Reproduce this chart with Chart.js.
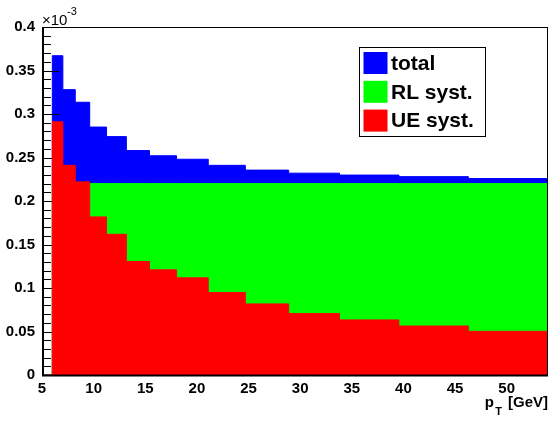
<!DOCTYPE html>
<html>
<head>
<meta charset="utf-8">
<script src="https://cdn.jsdelivr.net/npm/chart.js@4/dist/chart.umd.min.js"></script>
<style>
  html, body { margin: 0; padding: 0; background: #fff; }
  #wrap { width: 557px; height: 425px; }
</style>
</head>
<body>
<div id="wrap"><canvas id="chart" width="557" height="425"></canvas></div>
<script>
// bin low edges (pT, GeV), last entry is the upper edge of the last bin
var binEdges = [5, 6.00, 7.02, 8.22, 9.62, 11.25, 13.17, 15.41, 18.03, 21.10, 24.69, 28.89, 33.81, 39.56, 46.29, 54.00];
// values in units of 10^-3
var totalSyst = [0, 0.367, 0.328, 0.3135, 0.285, 0.274, 0.258, 0.252, 0.248, 0.241, 0.2355, 0.232, 0.2298, 0.228, 0.2258];
var rlSyst    = [0, 0.220, 0.220, 0.220, 0.220, 0.220, 0.220, 0.220, 0.220, 0.220, 0.220, 0.220, 0.220, 0.220, 0.220];
var ueSyst    = [0, 0.291, 0.241, 0.222, 0.1817, 0.1617, 0.1305, 0.1209, 0.1117, 0.0948, 0.0817, 0.0706, 0.0633, 0.0563, 0.0502];
var xTicks = [5, 10, 15, 20, 25, 30, 35, 40, 45, 50];
var yTicks = [0, 0.05, 0.1, 0.15, 0.2, 0.25, 0.3, 0.35, 0.4];

var FONT = "'Liberation Sans', Arial, Helvetica, sans-serif";

function histPoints(values) {
    var pts = [];
    for (var i = 0; i < values.length; i++) {
        pts.push({x: binEdges[i], y: values[i]});
    }
    pts.push({x: binEdges[values.length], y: values[values.length - 1]});
    return pts;
}

function histDataset(label, values, color) {
    return {
        label: label,
        data: histPoints(values),
        stepped: 'before',
        fill: 'origin',
        backgroundColor: color,
        borderColor: color,
        borderWidth: 1,
        pointRadius: 0,
        tension: 0,
    };
}

// ROOT-like decorations: inner ticks, frame, legend, axis texts
var rootStyle = {
    id: 'rootStyle',
    afterDatasetDraw: function(chart, args) {
        // the "total" histogram is drawn first, axis ticks go over it
        if (args.index !== 2) return;
        var ctx = chart.ctx, y = chart.scales.y, a = chart.chartArea;
        ctx.save();
        ctx.strokeStyle = '#000';
        ctx.lineWidth = 1;
        ctx.beginPath();
        for (var k = 0; k <= 40; k++) {
            var py = Math.round(y.getPixelForValue(k * 0.01)) + 0.5;
            var len = (k % 5 === 0) ? 17 : 9;
            ctx.moveTo(a.left, py);
            ctx.lineTo(a.left + len, py);
        }
        ctx.stroke();
        ctx.restore();
    },
    afterDraw: function(chart) {
        var ctx = chart.ctx, a = chart.chartArea;
        ctx.save();
        // frame
        ctx.strokeStyle = '#000';
        ctx.lineWidth = 1;
        ctx.strokeRect(a.left + 0.5, a.top + 0.5, a.right - a.left - 1, a.bottom - a.top);
        ctx.lineWidth = 2;
        ctx.beginPath();
        ctx.moveTo(a.left + 1, a.top);
        ctx.lineTo(a.left + 1, a.bottom + 1);
        ctx.moveTo(a.left, a.bottom + 0.5);
        ctx.lineTo(a.right, a.bottom + 0.5);
        ctx.stroke();

        // exponent label
        ctx.fillStyle = '#000';
        ctx.textBaseline = 'alphabetic';
        ctx.textAlign = 'left';
        ctx.font = '15px ' + FONT;
        ctx.fillText('\u00d710', 42, 25);
        ctx.font = '11px ' + FONT;
        ctx.fillText('-3', 67, 15);

        // x title
        ctx.font = 'bold 15px ' + FONT;
        ctx.textAlign = 'right';
        var right = 548;
        var g = '[GeV]';
        ctx.fillText(g, right, 407);
        var gw = ctx.measureText(g).width;
        ctx.font = 'bold 11px ' + FONT;
        ctx.fillText('T', right - gw - 6, 415);
        ctx.font = 'bold 15px ' + FONT;
        ctx.fillText('p', right - gw - 14, 407);

        // legend
        var lx = 359.5, ly = 47.5, lw = 126, lh = 89;
        ctx.fillStyle = '#fff';
        ctx.fillRect(lx, ly, lw, lh);
        ctx.lineWidth = 1;
        ctx.strokeStyle = '#000';
        ctx.strokeRect(lx, ly, lw, lh);
        var items = [chart.data.datasets[2], chart.data.datasets[1], chart.data.datasets[0]];
        ctx.font = 'bold 21px ' + FONT;
        ctx.textAlign = 'left';
        ctx.textBaseline = 'middle';
        for (var i = 0; i < items.length; i++) {
            var cy = 63 + i * 28.8;
            ctx.fillStyle = items[i].backgroundColor;
            ctx.fillRect(363.5, cy - 11, 24, 22);
            ctx.fillStyle = '#000';
            ctx.fillText(items[i].label, 391, cy + 1);
        }
        ctx.restore();
    }
};

var ctx = document.getElementById('chart').getContext('2d');
var chart = new Chart(ctx, {
    type: 'line',
    data: {
        datasets: [
            histDataset('UE syst.', ueSyst, 'rgb(255,0,0)'),
            histDataset('RL syst.', rlSyst, 'rgb(0,255,0)'),
            histDataset('total', totalSyst, 'rgb(0,0,255)'),
        ]
    },
    options: {
        responsive: false,
        animation: false,
        events: [],
        layout: { padding: { top: 27, right: 9, left: 0, bottom: 0 } },
        plugins: {
            legend: { display: false },
            tooltip: { enabled: false },
        },
        scales: {
            x: {
                type: 'linear',
                min: 5,
                max: 54,
                grid: { display: false, drawTicks: false },
                border: { display: false },
                afterFit: function(scale) { scale.height = 50; },
                afterBuildTicks: function(scale) {
                    scale.ticks = xTicks.map(function(v) { return {value: v}; });
                },
                ticks: {
                    autoSkip: false,
                    maxRotation: 0,
                    padding: 5,
                    color: '#000',
                    font: { family: FONT, size: 15, weight: 'bold' },
                    callback: function(v) { return String(v); },
                },
            },
            y: {
                min: 0,
                max: 0.4,
                grid: { display: false, drawTicks: false },
                border: { display: false },
                afterFit: function(scale) { scale.width = 42; },
                afterBuildTicks: function(scale) {
                    scale.ticks = yTicks.map(function(v) { return {value: v}; });
                },
                ticks: {
                    autoSkip: false,
                    padding: 7,
                    color: '#000',
                    font: { family: FONT, size: 15, weight: 'bold' },
                    callback: function(v) { return String(Number(v.toFixed(2))); },
                },
            },
        },
    },
    plugins: [rootStyle],
});
</script>
</body>
</html>
